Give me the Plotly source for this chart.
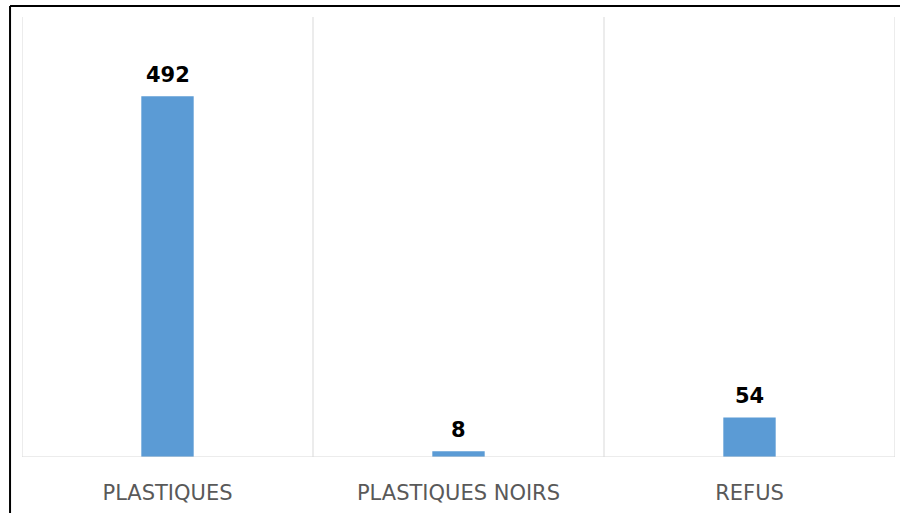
import plotly.graph_objects as go

categories = ["PLASTIQUES", "PLASTIQUES NOIRS", "REFUS"]
values = [492, 8, 54]

BAR_COLOR = "#5b9bd5"
GRID = "#d9d9d9"

fig = go.Figure()
fig.add_trace(go.Bar(
    x=categories, y=values, width=0.18,
    marker=dict(color=BAR_COLOR, line=dict(width=0)),
    hoverinfo="x+y",
))

for c, v in zip(categories, values):
    fig.add_annotation(
        x=c, y=v, xref="x", yref="y", text=f"<b>{v}</b>",
        showarrow=False, yanchor="bottom", yshift=7,
        font=dict(family="DejaVu Sans", size=21, color="#000000"),
    )

shapes = []
# vertical gridlines between categories
for xb in [-0.5, 0.5, 1.5, 2.5]:
    shapes.append(dict(type="line", xref="x", yref="paper", x0=xb, x1=xb, y0=0, y1=1,
                       line=dict(color=GRID, width=1)))
# baseline
shapes.append(dict(type="line", xref="paper", yref="y", x0=0, x1=1, y0=0, y1=0,
                   line=dict(color=GRID, width=1)))
# black outer frame (top and left)
shapes.append(dict(type="line", xref="paper", yref="paper", x0=-0.0137, x1=1.01, y0=1.025, y1=1.025,
                   line=dict(color="#000000", width=2)))
shapes.append(dict(type="line", xref="paper", yref="paper", x0=-0.0137, x1=-0.0137, y0=1.025, y1=-0.2,
                   line=dict(color="#000000", width=2)))

fig.update_layout(
    width=900, height=513,
    margin=dict(l=22, r=5, t=17, b=56),
    paper_bgcolor="white", plot_bgcolor="white",
    showlegend=False,
    shapes=shapes,
    xaxis=dict(
        range=[-0.5, 2.5], showgrid=False, zeroline=False, showline=False,
        ticks="", tickfont=dict(family="DejaVu Sans", size=21, color="#595959"),
        ticklabelstandoff=21,
    ),
    yaxis=dict(range=[0, 600], visible=False, showgrid=False, zeroline=False),
)

fig.write_html("out.html", config={"displayModeBar": False},
               post_script="document.body.style.margin='0';document.body.style.overflow='hidden';")
